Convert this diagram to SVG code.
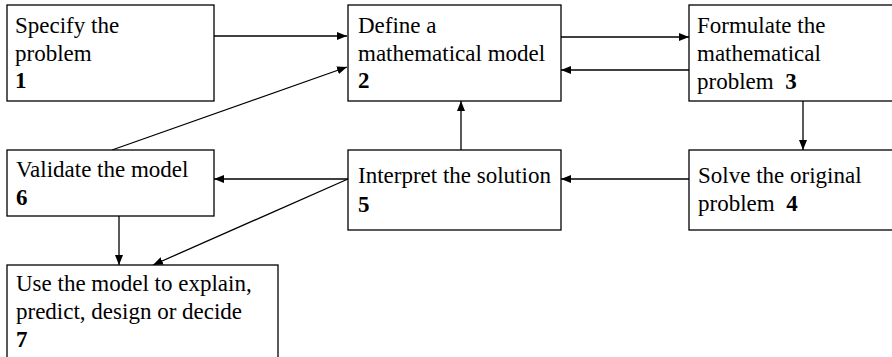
<svg xmlns="http://www.w3.org/2000/svg" width="892" height="357" viewBox="0 0 892 357">
<style>
.box{fill:#fff;stroke:#000;stroke-width:1.3}
text{font-family:'Liberation Serif','Tinos','Times New Roman','DejaVu Serif',serif;font-size:23px;fill:#000}
.b{font-weight:bold}
.c{stroke:#000;stroke-width:1.3;fill:none;marker-end:url(#ah)}
</style>
<defs>
<marker id="ah" viewBox="0 0 10 8" refX="10" refY="4" markerWidth="10" markerHeight="8" markerUnits="userSpaceOnUse" orient="auto">
<path d="M0,0 L10,4 L0,8 Z" fill="#000"/>
</marker>
</defs>
<rect width="892" height="357" fill="#fff"/>
<g id="connectors">
<path class="c" d="M214,36 L347,36"/>
<path class="c" d="M561,37 L689,37"/>
<path class="c" d="M689,70 L561,70"/>
<path class="c" d="M803,101 L803,150"/>
<path class="c" d="M689,179 L561,179"/>
<path class="c" d="M461,150 L461,101"/>
<path class="c" d="M348,179 L214,179"/>
<path class="c" d="M348,179 L153,265"/>
<path class="c" d="M119,216 L119,265"/>
<path class="c" d="M112,150 L347,67"/>
</g>
<g id="node1">
<rect class="box" x="7" y="5" width="207" height="96"/>
<text x="15" y="33">Specify the</text>
<text x="15" y="61">problem</text>
<text class="b" x="15" y="88">1</text>
</g>
<g id="node2">
<rect class="box" x="348" y="5" width="213" height="96"/>
<text x="358" y="33">Define a</text>
<text x="358" y="61">mathematical model</text>
<text class="b" x="358" y="88">2</text>
</g>
<g id="node3">
<rect class="box" x="689" y="5" width="215" height="96"/>
<text x="697" y="33">Formulate the</text>
<text x="697" y="61">mathematical</text>
<text x="697" y="89" xml:space="preserve">problem  <tspan class="b">3</tspan></text>
</g>
<g id="node4">
<rect class="box" x="689" y="150" width="215" height="80"/>
<text x="698" y="183">Solve the original</text>
<text x="698" y="211" xml:space="preserve">problem  <tspan class="b">4</tspan></text>
</g>
<g id="node5">
<rect class="box" x="348" y="150" width="213" height="80"/>
<text x="358" y="183">Interpret the solution</text>
<text class="b" x="358" y="212">5</text>
</g>
<g id="node6">
<rect class="box" x="7" y="150" width="207" height="66"/>
<text x="16" y="177">Validate the model</text>
<text class="b" x="16" y="205">6</text>
</g>
<g id="node7">
<rect class="box" x="7" y="265" width="271" height="110"/>
<text x="16" y="291">Use the model to explain,</text>
<text x="16" y="319">predict, design or decide</text>
<text class="b" x="16" y="347">7</text>
</g>
</svg>
